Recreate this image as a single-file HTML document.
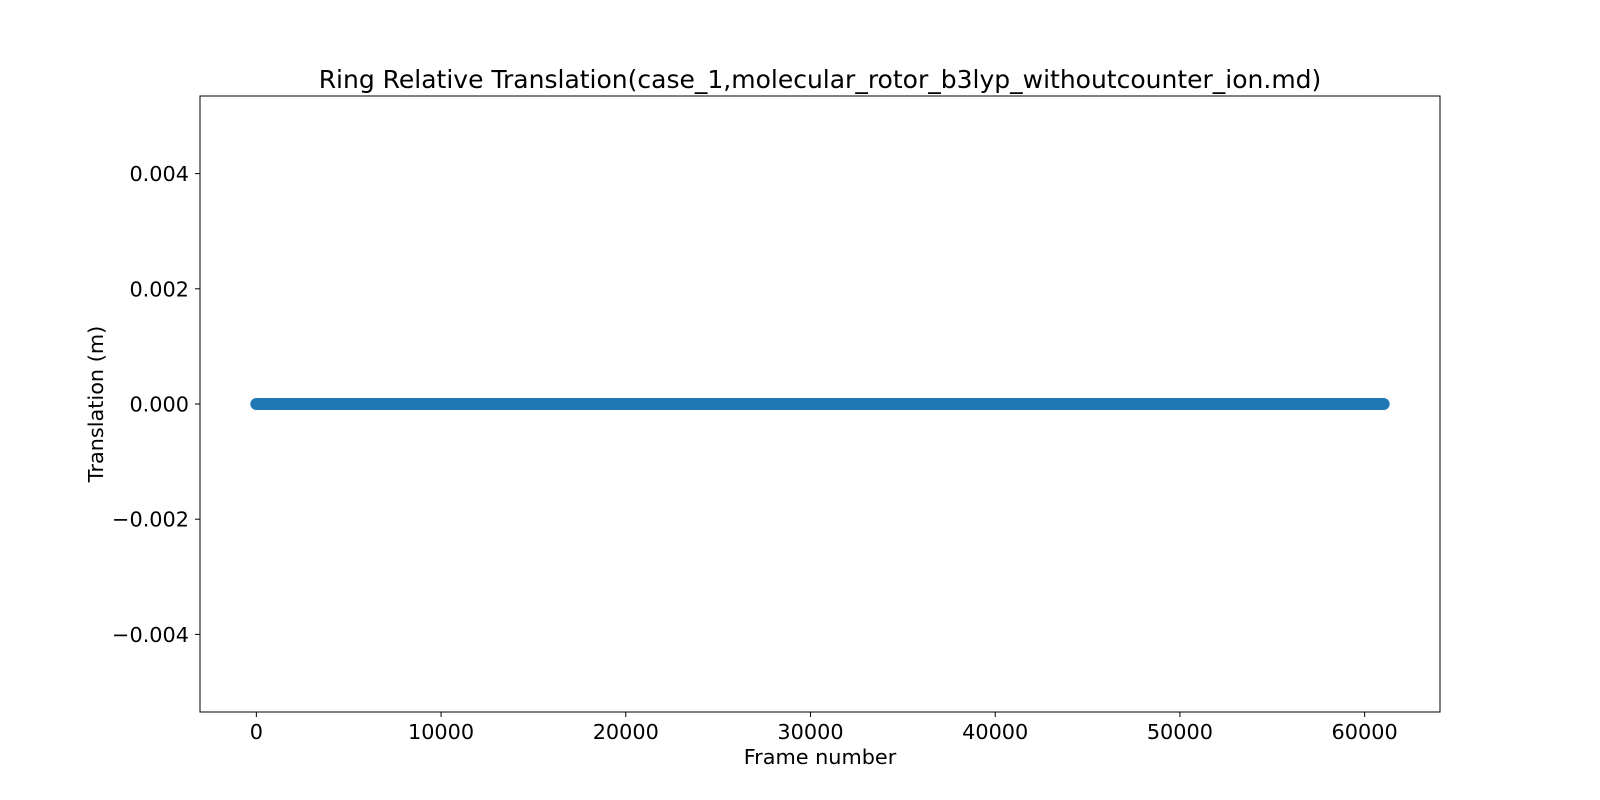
<!DOCTYPE html>
<html><head><meta charset="utf-8"><style>
body{margin:0;background:#fff;}
svg{display:block;font-family:"DejaVu Sans","Liberation Sans",sans-serif;}
</style></head><body>
<svg id="chart" width="1600" height="800">
<rect width="1600" height="800" fill="#fff"/>
<text x="820" y="88" font-size="25" text-anchor="middle">Ring Relative Translation(case_1,molecular_rotor_b3lyp_withoutcounter_ion.md)</text>
<g id="plot"></g>
<text x="820" y="764" font-size="20.8" text-anchor="middle">Frame number</text>
<text transform="translate(103,404) rotate(-90)" font-size="20.8" text-anchor="middle">Translation (m)</text>
</svg>
<script>
const frames = [0, 61030];
const translation = [0, 0];
const xTicks = [0, 10000, 20000, 30000, 40000, 50000, 60000];
const yTicks = [-0.004, -0.002, 0, 0.002, 0.004];
const yTickLabels = ["\u22120.004", "\u22120.002", "0.000", "0.002", "0.004"];

const L=200,R=1440,T=96,B=712;
const xmin=-3051,xmax=64081,ymin=-0.005347,ymax=0.005347;
const X=v=>L+(v-xmin)/(xmax-xmin)*(R-L);
const Y=v=>B-(v-ymin)/(ymax-ymin)*(B-T);
const NS="http://www.w3.org/2000/svg";
const g=document.getElementById('plot');
function mk(t,a){const e=document.createElementNS(NS,t);for(const k in a)e.setAttribute(k,a[k]);return e;}

const pts=frames.map((f,i)=>X(f)+','+Y(translation[i])).join(' ');
const line=mk('polyline',{points:pts,fill:'none',stroke:'#1f77b4','stroke-width':12,'stroke-linecap':'round','stroke-linejoin':'round'});


g.appendChild(line);

const frame=mk('rect',{x:L,y:T,width:R-L,height:B-T,fill:'none',stroke:'#000','stroke-width':1});


g.appendChild(frame);

xTicks.forEach(v=>{
  const x=X(v);
  const t=mk('line',{x1:x,x2:x,y1:B,y2:B+5,stroke:'#000'});
  
  
  g.appendChild(t);
  const s=mk('text',{x:x,y:B+27,'font-size':20.8,'text-anchor':'middle'});
  s.textContent=String(v);
  
  
  g.appendChild(s);
});
yTicks.forEach((v,i)=>{
  const y=Y(v);
  const t=mk('line',{x1:L-5,x2:L,y1:y,y2:y,stroke:'#000'});
  
  
  g.appendChild(t);
  const s=mk('text',{x:L-11,y:y+7.5,'font-size':20.8,'text-anchor':'end'});
  s.textContent=yTickLabels[i];
  
  
  g.appendChild(s);
});
</script>
</body></html>
